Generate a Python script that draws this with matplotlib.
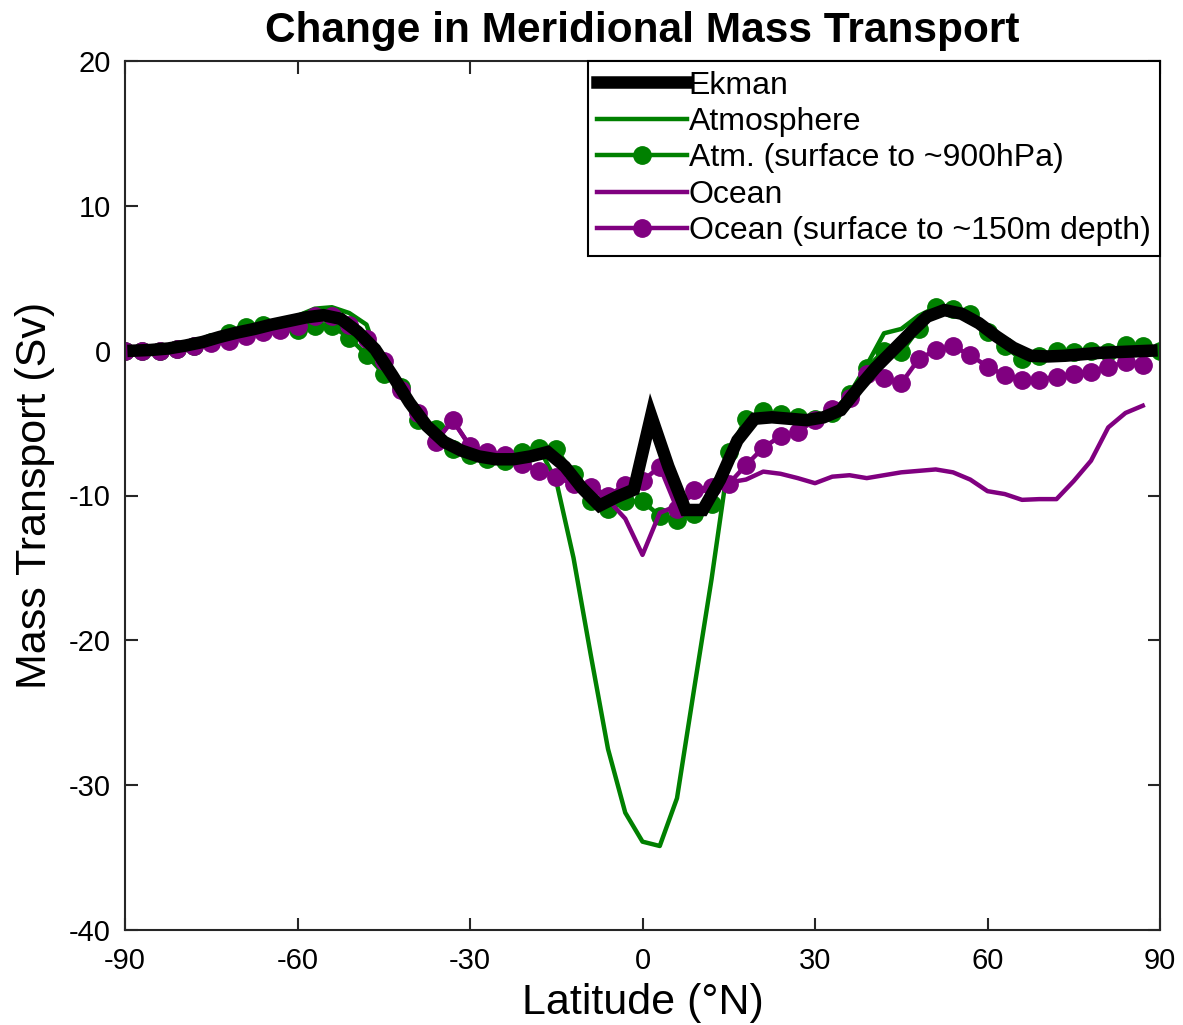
import numpy as np
import matplotlib
matplotlib.use('Agg')
import matplotlib.pyplot as plt

plt.rcParams['font.family'] = ['Liberation Sans', 'DejaVu Sans']
plt.rcParams['axes.unicode_minus'] = False

# широты (сетка 3 градуса)
lat = np.arange(-90, 91, 3)
lat_ek = np.arange(-88.5, 89, 3)

# Ekman
ekman = [0.0, 0.05, 0.15, 0.35, 0.6, 0.95, 1.25, 1.5, 1.8, 2.05,
         2.3, 2.45, 2.2, 1.3, 0.1, -1.7, -3.6, -5.2, -6.3, -6.9,
         -7.3, -7.5, -7.5, -7.3, -7.0, -8.0, -9.5, -10.7, -10.1, -9.6,
         -4.5, -8.0, -11.0, -11.0, -8.9, -6.2, -4.7, -4.6, -4.7, -4.8,
         -4.6, -4.1, -2.6, -1.2, 0.0, 1.2, 2.35, 2.8, 2.55, 1.9,
         1.0, 0.2, -0.35, -0.4, -0.35, -0.25, -0.15, -0.1, -0.05, 0.0]

# атмосфера (полная)
atm = [0.0, 0.0, 0.0, 0.1, 0.3, 0.6, 1.2, 1.6, 1.8, 1.8,
       2.4, 2.9, 3.0, 2.6, 1.8, -1.6, -2.5, -4.8, -5.4, -6.8,
       -7.2, -7.5, -7.6, -7.0, -6.7, -9.0, -14.3, -21.0, -27.5, -31.9,
       -33.9, -34.2, -30.9, -23.3, -15.8, -7.5, -4.7, -4.2, -4.4, -4.6,
       -4.7, -4.3, -3.0, -1.0, 1.2, 1.5, 2.4, 3.0, 2.9, 2.5,
       1.3, 0.3, -0.6, -0.4, 0.0, -0.1, 0.0, -0.1, 0.4, 0.3, 0.0]

# атмосфера (поверхность - ~900 гПа)
atm_sfc = [0.0, 0.0, 0.0, 0.1, 0.3, 0.6, 1.2, 1.6, 1.8, 1.5,
           1.4, 1.7, 1.7, 0.9, -0.3, -1.6, -2.5, -4.8, -5.4, -6.8,
           -7.2, -7.5, -7.6, -7.0, -6.7, -6.8, -8.5, -10.4, -10.9, -10.4,
           -10.4, -11.4, -11.7, -11.3, -10.6, -7.0, -4.7, -4.2, -4.4, -4.6,
           -4.7, -4.3, -3.0, -1.2, 0.0, -0.1, 1.5, 3.0, 2.9, 2.5,
           1.3, 0.3, -0.6, -0.4, 0.0, -0.1, 0.0, -0.1, 0.4, 0.3, 0.0]

# океан (полный)
ocn = [0.0, -0.05, -0.05, 0.1, 0.3, 0.5, 0.65, 1.0, 1.3, 1.45,
       1.7, 2.4, 2.4, 1.8, 0.8, -0.7, -2.7, -4.3, -6.3, -4.8,
       -6.6, -7.0, -7.2, -7.8, -8.3, -8.7, -9.2, -9.4, -10.3, -11.6,
       -14.1, -11.2, -10.7, -9.9, -9.5, -9.1, -8.9, -8.35, -8.5, -8.8,
       -9.15, -8.7, -8.6, -8.8, -8.6, -8.4, -8.3, -8.2, -8.4, -8.9,
       -9.7, -9.9, -10.3, -10.25, -10.25, -9.0, -7.6, -5.3, -4.3, -3.8, np.nan]

# океан (поверхность - ~150 м)
ocn_sfc = [0.0, -0.05, -0.05, 0.1, 0.3, 0.5, 0.65, 1.0, 1.3, 1.45,
           1.7, 2.4, 2.4, 1.8, 0.8, -0.7, -2.7, -4.3, -6.3, -4.8,
           -6.6, -7.0, -7.2, -7.8, -8.3, -8.7, -9.2, -9.4, -10.0, -9.3,
           -9.0, -8.0, -10.9, -9.6, -9.4, -9.2, -7.9, -6.7, -5.9, -5.6,
           -4.8, -4.0, -3.3, -1.6, -1.9, -2.25, -0.6, 0.05, 0.3, -0.3,
           -1.1, -1.7, -2.0, -2.0, -1.8, -1.6, -1.45, -1.1, -0.8, -1.0, np.nan]

green = '#008000'
purple = '#800080'

fig = plt.figure(figsize=(11.83, 10.25), dpi=100)
ax = fig.add_axes([125/1183, 1-930/1025, 1035/1183, 869/1025])

h2, = ax.plot(lat, atm, color=green, lw=3.2)
h3, = ax.plot(lat, atm_sfc, color=green, lw=3.2, marker='o', ms=12.5,
              mfc=green, mec=green)
h4, = ax.plot(lat, ocn, color=purple, lw=3.2)
h5, = ax.plot(lat, ocn_sfc, color=purple, lw=3.2, marker='o', ms=12.5,
              mfc=purple, mec=purple)
h1, = ax.plot(lat_ek, ekman, color='black', lw=9, solid_joinstyle='miter')

ax.set_xlim(-90, 90)
ax.set_ylim(-40, 20)
ax.set_xticks(np.arange(-90, 91, 30))
ax.set_yticks(np.arange(-40, 21, 10))
ax.tick_params(direction='in', length=9, width=1.5, top=True, right=True,
               labelsize=21, colors='#262626', labelcolor='black')
ax.tick_params(axis='x', pad=12)
ax.tick_params(axis='y', pad=10)
for s in ax.spines.values():
    s.set_linewidth(1.5)
    s.set_color('#262626')

ax.set_xlabel('Latitude (°N)', fontsize=31, labelpad=6)
ax.set_ylabel('Mass Transport (Sv)', fontsize=31, labelpad=10)
ax.set_title('Change in Meridional Mass Transport', fontsize=30.5,
             fontweight='bold', pad=14)

leg = ax.legend([h1, h2, h3, h4, h5],
                ['Ekman', 'Atmosphere', 'Atm. (surface to ~900hPa)', 'Ocean',
                 'Ocean (surface to ~150m depth)'],
                loc='upper right', fontsize=23, numpoints=1,
                handlelength=2.8, handletextpad=0.05, labelspacing=0.2,
                borderaxespad=0, borderpad=0.3, fancybox=False, framealpha=1)
leg.get_frame().set_edgecolor('black')
leg.get_frame().set_linewidth(1.5)

fig.savefig('out.png', dpi=100)
